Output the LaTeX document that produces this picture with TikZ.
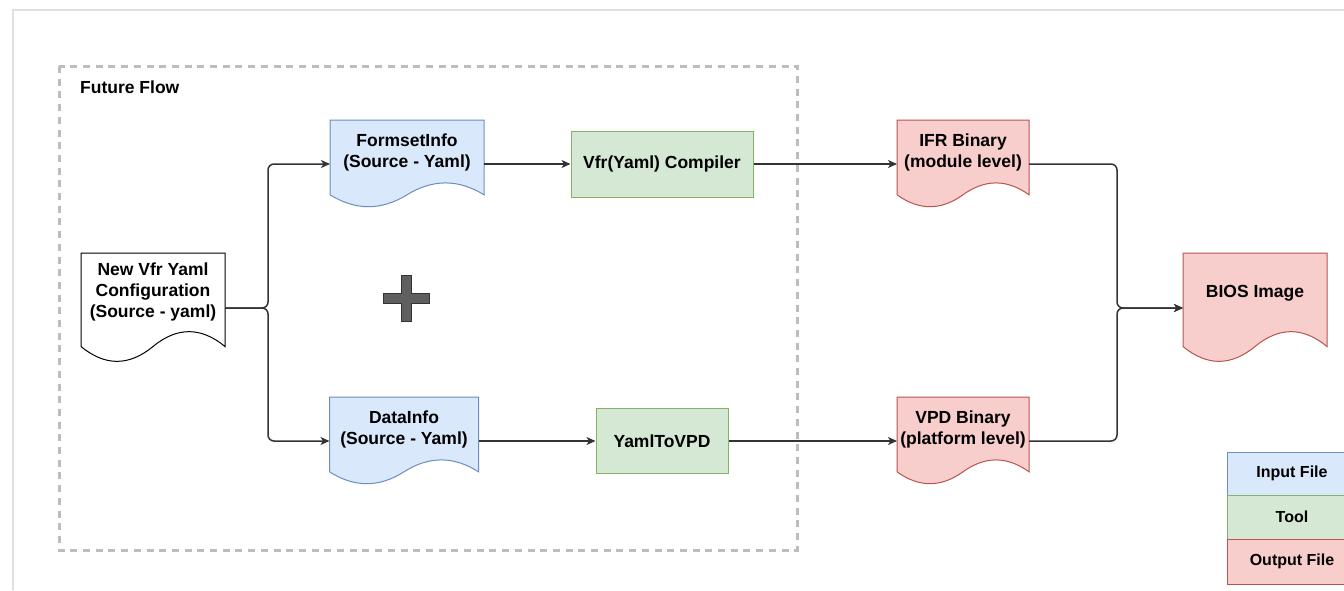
\documentclass[tikz,border=0pt]{standalone}
\usepackage{fontspec}
\setmainfont{Liberation Sans}
\usetikzlibrary{arrows.meta,backgrounds,calc}

\definecolor{inFill}{HTML}{DAE8FC}
\definecolor{inLine}{HTML}{6C8EBF}
\definecolor{toolFill}{HTML}{D5E8D4}
\definecolor{toolLine}{HTML}{82B366}
\definecolor{outFill}{HTML}{F8CECC}
\definecolor{outLine}{HTML}{B85450}
\definecolor{wire}{HTML}{333333}
\definecolor{dashgray}{HTML}{BDBDBD}
\definecolor{pagegray}{HTML}{E0E0E0}
\definecolor{plusFill}{HTML}{5F5F5F}
\definecolor{plusLine}{HTML}{333333}

% Document outline with a wavy lower edge, drawn over the box of node #1
\newcommand\docbody[2]{%
  \path[#2] let \p1=(#1.north west), \p2=(#1.south east),
      \n1={\x2-\x1}, \n2={0.3*(\y1-\y2)} in
    (\p1) -- (\x2,\y1) -- (\x2,{\y2+0.5*\n2})
    .. controls ({\x1+5/6*\n1},{\y2+1.1*\n2}) and ({\x1+2/3*\n1},{\y2+1.1*\n2}) .. ({\x1+0.5*\n1},{\y2+0.5*\n2})
    .. controls ({\x1+1/3*\n1},{\y2-0.1*\n2}) and ({\x1+1/6*\n1},{\y2-0.1*\n2}) .. (\x1,{\y2+0.5*\n2})
    -- cycle;}

\begin{document}
\begin{tikzpicture}[x=1pt,y=-1pt,
  txt/.style={font=\bfseries\fontsize{17.5}{21}\selectfont, align=center, text=black, inner sep=0pt},
  docnode/.style={rectangle, draw=none, inner sep=0pt, outer sep=0pt},
  toolbox/.style={rectangle, draw=toolLine, fill=toolFill, line width=1pt, txt},
  legendbox/.style={rectangle, line width=1pt, minimum width=130pt, inner sep=0pt,
    font=\bfseries\fontsize{16}{19}\selectfont},
  conn/.style={draw=wire, line width=1.5pt, rounded corners=6pt,
    -{Stealth[length=9pt,width=8pt,inset=2.5pt]}},
  docline/.style={line width=1pt}]

\useasboundingbox (0,0) rectangle (1344,590);

% page frame
\draw[pagegray, line width=1.2pt] (13,590) -- (13,10) -- (1344,10);

% region of the future flow
\draw[dashgray, line width=3pt, dash pattern=on 7pt off 5.7pt] (59,66) rectangle (797,550);
\node[txt, anchor=west] (fftitle) at (80,87) {Future Flow};

% documents
\node[docnode, minimum width=144pt, minimum height=110pt,
  label={[txt, yshift=16pt]center:{New Vfr Yaml\\Configuration\\(Source - yaml)}}] (vfr) at (153,308) {};
\node[docnode, minimum width=154pt, minimum height=88pt,
  label={[txt, yshift=11.5pt]center:{FormsetInfo\\(Source - Yaml)}}] (fs) at (407,164) {};
\node[docnode, minimum width=149pt, minimum height=88pt,
  label={[txt, yshift=11.5pt]center:{DataInfo\\(Source - Yaml)}}] (di) at (404,441) {};
\node[docnode, minimum width=132pt, minimum height=88pt,
  label={[txt, yshift=11.5pt]center:{IFR Binary\\(module level)}}] (ifr) at (963,164) {};
\node[docnode, minimum width=132pt, minimum height=88pt,
  label={[txt, yshift=11.5pt]center:{VPD Binary\\(platform level)}}] (vpd) at (963,441) {};
\node[docnode, minimum width=144pt, minimum height=110pt,
  label={[txt, yshift=14.5pt]center:{BIOS Image}}] (bios) at (1255,308) {};

% tools
\node[toolbox, minimum width=182pt, minimum height=66pt] (comp) at (662,164) {Vfr(Yaml) Compiler};
\node[toolbox, minimum width=132pt, minimum height=65pt] (ytv) at (662,441) {YamlToVPD};

% plus sign
\filldraw[fill=plusFill, draw=plusLine, line width=1pt]
  (383,293) -- (401,293) -- (401,275) -- (411,275) -- (411,293) -- (429,293)
  -- (429,303) -- (411,303) -- (411,321) -- (401,321) -- (401,303) -- (383,303) -- cycle;

% legend
\node[legendbox, fill=inFill, draw=inLine, minimum height=43pt] (lgin) at (1292,473.5) {Input File};
\node[legendbox, fill=toolFill, draw=toolLine, minimum height=44pt] (lgtool) at (1292,517) {Tool};
\node[legendbox, fill=outFill, draw=outLine, minimum height=45pt] (lgout) at (1292,561.5) {Output File};

% connectors
\draw[conn] (vfr.east) -- ++(43,0) |- (fs.west);
\draw[conn] (vfr.east) -- ++(43,0) |- (di.west);
\draw[conn] (fs.east) -- (comp.west);
\draw[conn] (comp.east) -- (ifr.west);
\draw[conn] (di.east) -- (ytv.west);
\draw[conn] (ytv.east) -- (vpd.west);
\draw[conn] (ifr.east) -- ++(88,0) |- (bios.west);
\draw[conn] (vpd.east) -- ++(88,0) |- (bios.west);

% document bodies behind their labels
\begin{scope}[on background layer]
  \fill[white] (0,0) rectangle (1344,590);
  \docbody{vfr}{docline, fill=white, draw=black}
  \docbody{fs}{docline, fill=inFill, draw=inLine}
  \docbody{di}{docline, fill=inFill, draw=inLine}
  \docbody{ifr}{docline, fill=outFill, draw=outLine}
  \docbody{vpd}{docline, fill=outFill, draw=outLine}
  \docbody{bios}{docline, fill=outFill, draw=outLine}
\end{scope}
\end{tikzpicture}
\end{document}
